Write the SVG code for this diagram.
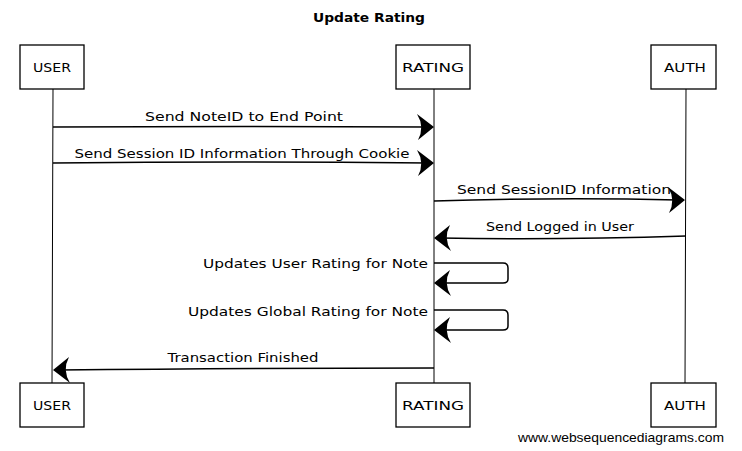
<svg xmlns="http://www.w3.org/2000/svg" width="742" height="451" viewBox="0 0 742 451">
<style>
.bg{fill:#fff}
.box{fill:#fff;stroke:#000;stroke-width:1.3}
.life{stroke:#000;stroke-width:1;fill:none}
.msg{stroke:#000;stroke-width:1.5;fill:none}
.head{fill:#000;stroke:none}
text{font-family:"DejaVu Sans","Liberation Sans",sans-serif;font-size:13px;fill:#000}
.t{font-weight:bold;font-size:13px}
.p{font-size:12px}
.wm{font-family:"Liberation Sans",Arial,sans-serif;font-size:13px;fill:#000}
</style>
<defs>
<path id="hr" d="M0,0 L-17,-13 Q-9,0 -16,13 Z"/>
</defs>
<rect class="bg" x="0" y="0" width="742" height="451"/>
<text class="t" x="369" y="22" text-anchor="middle" textLength="112" lengthAdjust="spacingAndGlyphs">Update Rating</text>

<g id="lifelines">
<line class="life" x1="53" y1="89" x2="52" y2="383"/>
<line class="life" x1="434" y1="89" x2="434" y2="383"/>
<line class="life" x1="686" y1="89" x2="685" y2="383"/>
</g>

<g id="user-top"><rect class="box" x="20" y="45" width="64" height="44"/><text class="p" x="52" y="72" text-anchor="middle" textLength="38" lengthAdjust="spacingAndGlyphs">USER</text></g>
<g id="rating-top"><rect class="box" x="396" y="45" width="74" height="44"/><text class="p" x="433" y="72" text-anchor="middle" textLength="62" lengthAdjust="spacingAndGlyphs">RATING</text></g>
<g id="auth-top"><rect class="box" x="651" y="45" width="65" height="44"/><text class="p" x="685" y="72" text-anchor="middle" textLength="42" lengthAdjust="spacingAndGlyphs">AUTH</text></g>
<g id="user-bottom"><rect class="box" x="20" y="383" width="64" height="44"/><text class="p" x="52" y="410" text-anchor="middle" textLength="38" lengthAdjust="spacingAndGlyphs">USER</text></g>
<g id="rating-bottom"><rect class="box" x="396" y="383" width="74" height="44"/><text class="p" x="433" y="410" text-anchor="middle" textLength="62" lengthAdjust="spacingAndGlyphs">RATING</text></g>
<g id="auth-bottom"><rect class="box" x="651" y="383" width="65" height="44"/><text class="p" x="685" y="410" text-anchor="middle" textLength="42" lengthAdjust="spacingAndGlyphs">AUTH</text></g>

<g id="connectors">
<path class="msg" d="M53,127 Q240,126 428,127"/>
<use href="#hr" transform="translate(434,127)"/>
<text x="244" y="121" text-anchor="middle" textLength="198" lengthAdjust="spacingAndGlyphs">Send NoteID to End Point</text>

<path class="msg" d="M53,163 Q240,161 428,163"/>
<use href="#hr" transform="translate(434,163)"/>
<text x="242" y="158" text-anchor="middle" textLength="335" lengthAdjust="spacingAndGlyphs">Send Session ID Information Through Cookie</text>

<path class="msg" d="M434,201 Q560,197 678,200"/>
<use href="#hr" transform="translate(685,200)"/>
<text x="564" y="194" text-anchor="middle" textLength="214" lengthAdjust="spacingAndGlyphs">Send SessionID Information</text>

<path class="msg" d="M686,236 Q560,240 440,238"/>
<use href="#hr" transform="translate(434,238) rotate(180)"/>
<text x="560" y="231" text-anchor="middle" textLength="148" lengthAdjust="spacingAndGlyphs">Send Logged in User</text>

<path class="msg" d="M434,263 L503,263 Q508,263 508,268 L508,279 Q508,283 503,283 L440,283"/>
<use href="#hr" transform="translate(434,283) rotate(180)"/>
<text x="428" y="268" text-anchor="end" textLength="225" lengthAdjust="spacingAndGlyphs">Updates User Rating for Note</text>

<path class="msg" d="M434,310 L503,310 Q508,310 508,315 L508,326 Q508,330 503,330 L440,330"/>
<use href="#hr" transform="translate(434,330) rotate(180)"/>
<text x="428" y="316" text-anchor="end" textLength="240" lengthAdjust="spacingAndGlyphs">Updates Global Rating for Note</text>

<path class="msg" d="M434,368 Q240,368 59,370"/>
<use href="#hr" transform="translate(53,370) rotate(180)"/>
<text x="243" y="362" text-anchor="middle" textLength="151" lengthAdjust="spacingAndGlyphs">Transaction Finished</text>
</g>

<text class="wm" x="518" y="442" textLength="206" lengthAdjust="spacingAndGlyphs">www.websequencediagrams.com</text>
</svg>
